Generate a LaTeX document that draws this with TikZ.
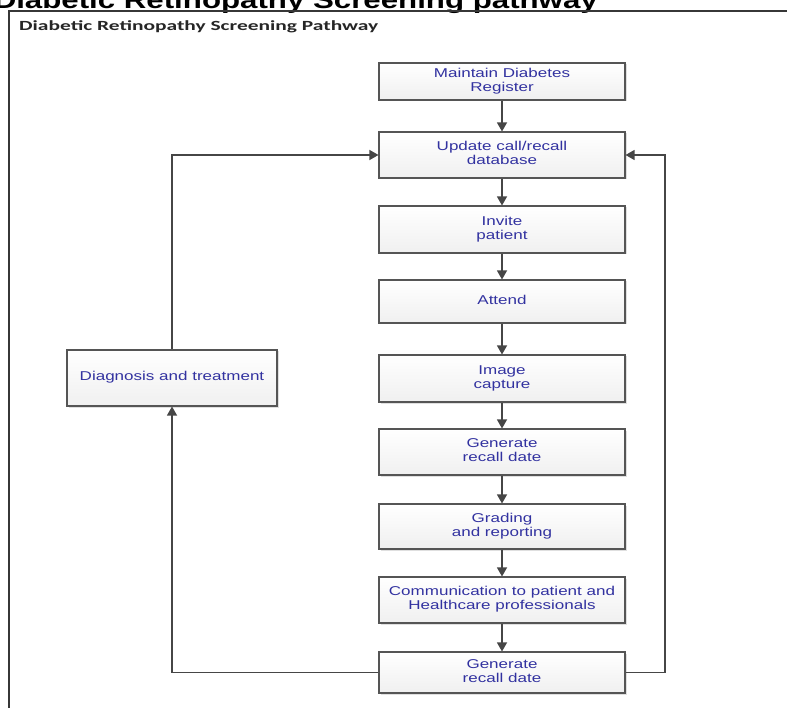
\documentclass[tikz,border=0pt]{standalone}
\usepackage{fontspec}
\setmainfont{Liberation Sans}
\newfontfamily\carl{Carlito}
\usetikzlibrary{arrows.meta,shadows}
\definecolor{txtblue}{RGB}{50,50,160}
\definecolor{edgec}{RGB}{85,85,85}
\definecolor{arrowc}{RGB}{70,70,70}
\definecolor{framec}{RGB}{55,55,55}
\newcommand{\bt}[1]{\scalebox{1.33}[1]{\begin{tabular}{@{}c@{}}#1\end{tabular}}}
\tikzset{
  stepbox/.style={draw=edgec, line width=1.1pt, top color=white, bottom color=gray!12,
    drop shadow={shadow xshift=1.5pt, shadow yshift=-1.5pt, opacity=0.25, fill=gray},
    minimum width=246pt, inner sep=0pt, text=txtblue,
    font=\fontsize{12.8}{14}\selectfont},
  arr/.style={draw=arrowc, line width=1.3pt, -{Triangle[length=9pt,width=10pt]}},
  framel/.style={draw=framec, line width=1.2pt}
}
\begin{document}
\begin{tikzpicture}[x=1pt,y=-1pt]
\useasboundingbox (0,0) rectangle (787,708);
\clip (0,0) rectangle (787,708);
\fill[white] (0,0) rectangle (787,708);
% title
\node[anchor=base east, inner sep=0pt, font=\fontsize{24}{24}\selectfont\bfseries] (title) at (598,8.5)
  {\resizebox{604pt}{\height}{Diabetic Retinopathy Screening pathway}};
% frame
\draw[framel] (9,708) -- (9,11) -- (787,11);
\node[anchor=base west, inner sep=0pt, text=black!85, font=\fontsize{14}{14}\carl\bfseries\selectfont] (sub) at (19,30.5)
  {\resizebox{359pt}{\height}{Diabetic Retinopathy Screening Pathway}};
% boxes
\node[stepbox, minimum height=37pt] (b1) at (502,81.5) {\bt{Maintain Diabetes\\Register}};
\node[stepbox, minimum height=46pt] (b2) at (502,155) {\bt{Update call/recall\\database}};
\node[stepbox, minimum height=47pt] (b3) at (502,229.5) {\bt{Invite\\patient}};
\node[stepbox, minimum height=43pt] (b4) at (502,301.5) {\bt{Attend}};
\node[stepbox, minimum height=47pt] (b5) at (502,378.5) {\bt{Image\\capture}};
\node[stepbox, minimum height=46pt] (b6) at (502,452) {\bt{Generate\\recall date}};
\node[stepbox, minimum height=45pt] (b7) at (502,526.5) {\bt{Grading\\and reporting}};
\node[stepbox, minimum height=46pt] (b8) at (502,600) {\bt{Communication to patient and\\Healthcare professionals}};
\node[stepbox, minimum height=41pt] (b9) at (502,672.5) {\bt{Generate\\recall date}};
\node[stepbox, minimum width=210pt, minimum height=56pt] (dg) at (172,378) {\bt{Diagnosis and treatment}};
% vertical arrows
\draw[arr] (b1) -- (b2);
\draw[arr] (b2) -- (b3);
\draw[arr] (b3) -- (b4);
\draw[arr] (b4) -- (b5);
\draw[arr] (b5) -- (b6);
\draw[arr] (b6) -- (b7);
\draw[arr] (b7) -- (b8);
\draw[arr] (b8) -- (b9);
% loops
\coordinate (rc) at (665,155);
\draw[arr] (b9.east) -| (rc) -- (b2.east);
\draw[arr] (b9.west) -| (dg.south);
\draw[arr] (dg.north) |- (b2.west);
\end{tikzpicture}
\end{document}
